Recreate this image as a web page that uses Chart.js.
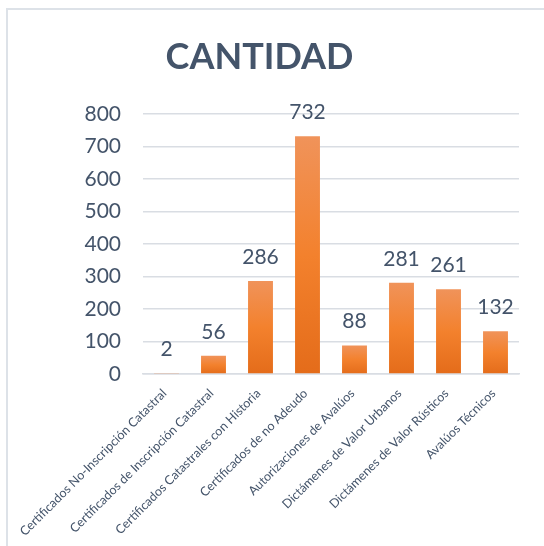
<!DOCTYPE html>
<html>
<head>
<meta charset="utf-8">
<script src="https://cdn.jsdelivr.net/npm/chart.js@4/dist/chart.umd.min.js"></script>
<style>
  html, body { margin: 0; padding: 0; background: #fff; }
  #wrap { position: relative; width: 544px; height: 546px; }
  #frame { position: absolute; left: 6px; top: 8px; right: 0; bottom: 0;
           border-left: 2px solid #DDE2E8; border-top: 2px solid #DDE2E8; }
  canvas { position: absolute; left: 0; top: 0; }
</style>
</head>
<body>
<div id="wrap">
  <div id="frame"></div>
  <canvas id="chart" width="544" height="546"></canvas>
</div>
<script>
// datos del gráfico
const CATEGORIAS = [
  "Certificados No-Inscripción Catastral",
  "Certificados de Inscripción Catastral",
  "Certificados Catastrales con Historia",
  "Certificados de no Adeudo",
  "Autorizaciones de Avalúos",
  "Dictámenes de Valor Urbanos",
  "Dictámenes de Valor Rústicos",
  "Avalúos Técnicos",
];
const CANTIDAD = [2, 56, 286, 732, 88, 281, 261, 132];
const TITULO = "CANTIDAD";
const Y_MIN = 0;
const Y_MAX = 800;
const Y_PASO = 100;

const TEXTO = "#44546A";
const FUENTE = "Lato, 'Open Sans', sans-serif";

// degradado por barra, claro arriba y más oscuro abajo
function colorBarra(ctx) {
  const chart = ctx.chart;
  const y = chart.scales.y;
  if (!chart.chartArea || !y) return "#F2802E";
  const top = y.getPixelForValue(ctx.raw);
  const base = y.getPixelForValue(0);
  if (!(base - top > 1)) return "#F0935A";
  const g = chart.ctx.createLinearGradient(0, top, 0, base);
  g.addColorStop(0, "#F0935A");
  g.addColorStop(0.5, "#F3812D");
  g.addColorStop(1, "#E46C1A");
  return g;
}

// etiquetas de valor encima de cada barra
const etiquetasValor = {
  id: "etiquetasValor",
  afterDatasetsDraw(chart) {
    const ctx = chart.ctx;
    const meta = chart.getDatasetMeta(0);
    ctx.save();
    ctx.font = "21px " + FUENTE;
    ctx.fillStyle = TEXTO;
    ctx.textAlign = "center";
    ctx.textBaseline = "alphabetic";
    meta.data.forEach((bar, i) => {
      ctx.fillText(String(CANTIDAD[i]), bar.x, bar.y - 17);
    });
    ctx.restore();
  },
};

new Chart(document.getElementById("chart"), {
  type: "bar",
  data: {
    labels: CATEGORIAS,
    datasets: [{
      data: CANTIDAD,
      backgroundColor: colorBarra,
      borderWidth: 0,
      categoryPercentage: 1,
      barPercentage: 0.53,
      minBarLength: 1,
    }],
  },
  options: {
    responsive: false,
    animation: false,
    events: [],
    layout: { padding: { left: 0, right: 25, top: 36, bottom: 0 } },
    plugins: {
      legend: { display: false },
      tooltip: { enabled: false },
      title: {
        display: true,
        text: TITULO,
        color: TEXTO,
        font: { family: FUENTE, size: 36, weight: "bold" },
        padding: { top: 0, bottom: 35 },
      },
    },
    scales: {
      x: {
        grid: { display: false, drawTicks: false },
        border: { display: true, color: "#D9DDE3", width: 1.5 },
        ticks: {
          color: TEXTO,
          font: { family: FUENTE, size: 12.5 },
          minRotation: 45,
          maxRotation: 45,
          autoSkip: false,
          padding: 12,
          labelOffset: -2,
        },
        afterFit(scale) { scale.height = 172; },
      },
      y: {
        min: Y_MIN,
        max: Y_MAX,
        grid: { color: "#D9DDE3", lineWidth: 1.5, drawTicks: false },
        border: { display: false },
        ticks: {
          stepSize: Y_PASO,
          color: TEXTO,
          font: { family: FUENTE, size: 21 },
          padding: 22,
        },
        afterFit(scale) { scale.width = 143; },
      },
    },
  },
  plugins: [etiquetasValor],
});
</script>
</body>
</html>
